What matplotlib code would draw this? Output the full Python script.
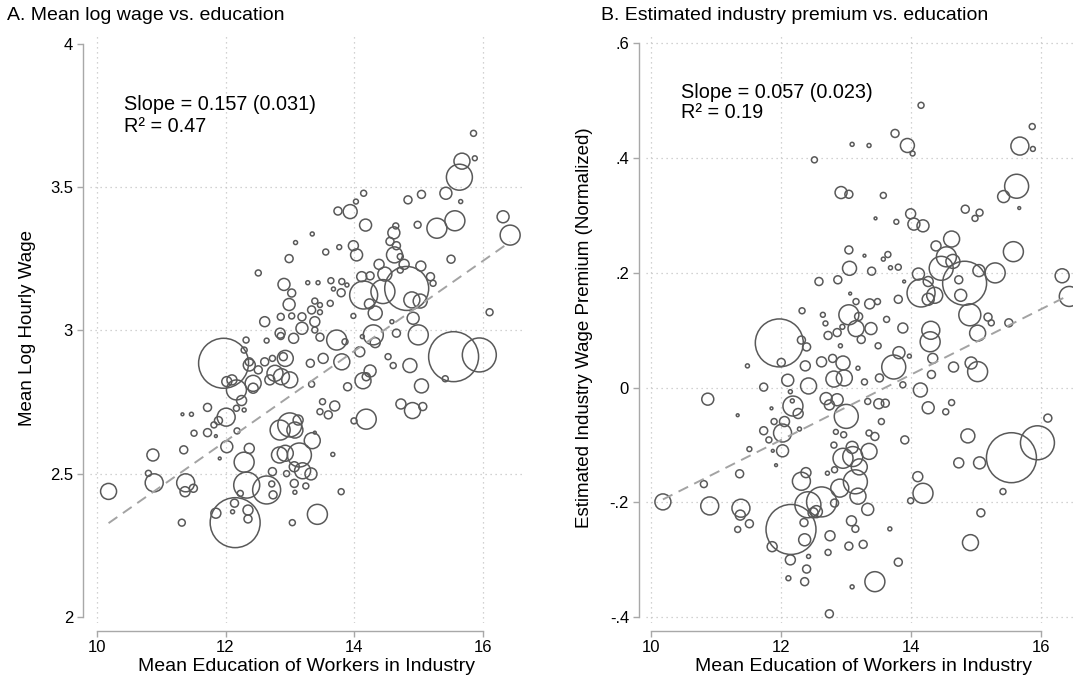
import numpy as np
import matplotlib
matplotlib.use('Agg')
import matplotlib.pyplot as plt

plt.rcParams['font.family'] = ['Liberation Sans', 'DejaVu Sans']

# ---- panel A: mean log wage vs mean education (bubble = employment weight)
edu_a = [12.51, 12.91, 12.99, 12.99, 12.86, 12.61, 12.32, 12.64, 12.86,
         15.86, 15.68, 15.88, 15.64, 15.43, 15.66, 15.05, 14.84, 14.15, 14.03,
         13.94, 13.75, 14.18, 16.32, 16.43, 15.29, 15.57, 14.99, 14.65, 14.62,
         14.56, 14.66, 14.63, 14.72, 15.51, 13.99, 14.04, 13.77, 13.56, 13.35, 13.09,
         14.39, 14.78, 15.04, 14.48, 14.72, 14.12, 14.25, 15.19, 15.23, 14.15,
         14.45, 14.82, 14.90, 15.03, 14.24, 14.33, 13.99, 14.59, 14.92, 16.11,
         14.66, 15.00, 14.30, 14.13, 13.73, 13.86, 13.03, 13.28, 13.44, 13.64,
         13.81, 13.68, 13.80, 13.89, 13.63, 13.39, 13.47, 13.34, 13.47, 13.19,
         13.39, 13.19, 13.03, 13.39, 13.47, 13.06, 12.85,
         11.97, 12.29, 12.37, 12.37, 12.61, 12.73, 12.93, 12.77, 12.87, 12.69,
         13.00, 12.02, 12.10, 12.17, 12.43, 12.43, 12.51, 12.25, 12.17, 12.29,
         12.01, 11.89, 11.82, 11.72, 11.47, 11.33, 11.72, 11.51, 11.85, 12.18,
         12.02, 11.35, 10.87, 11.91, 12.37, 12.29, 12.73, 12.84, 12.95, 10.80,
         10.89, 11.38, 11.50, 11.37, 10.18, 12.33, 12.64, 12.72, 12.74, 12.23,
         12.14, 12.11, 11.85, 12.35, 12.35, 12.15, 11.32,
         14.33, 15.55, 15.95, 15.42, 14.53, 14.61, 14.87, 15.05, 14.25, 14.19,
         14.14, 13.90, 14.09, 13.81, 13.52, 13.34, 14.73, 14.91, 15.07, 14.19,
         14.00, 13.70, 13.60, 13.51, 13.47, 13.35, 13.39, 13.15, 12.93, 13.00,
         13.08, 13.13, 12.85, 13.33, 13.20, 13.07, 13.07, 13.25, 13.08, 13.67,
         13.80, 13.43, 13.04, 12.90, 13.32]
wage_a = [3.200, 3.160, 3.250, 3.090, 3.047, 3.030, 2.966, 2.964, 2.980,
          3.687, 3.590, 3.600, 3.534, 3.478, 3.449, 3.474, 3.455, 3.478, 3.449,
          3.414, 3.416, 3.367, 3.396, 3.332, 3.356, 3.382, 3.368, 3.364, 3.340,
          3.310, 3.295, 3.263, 3.257, 3.248, 3.295, 3.263, 3.290, 3.273, 3.336, 3.306,
          3.230, 3.230, 3.224, 3.196, 3.210, 3.187, 3.190, 3.187, 3.164, 3.123,
          3.135, 3.146, 3.106, 3.102, 3.092, 3.060, 3.050, 3.030, 3.042, 3.063,
          2.990, 2.984, 2.984, 2.978, 2.966, 2.960, 3.130, 3.166, 3.166, 3.173,
          3.170, 3.144, 3.131, 3.158, 3.094, 3.102, 3.088, 3.071, 3.063, 3.047,
          3.030, 3.007, 3.050, 3.001, 2.976, 2.972, 2.990,
          2.885, 2.931, 2.890, 2.879, 2.890, 2.902, 2.902, 2.850, 2.838, 2.827,
          2.827, 2.821, 2.827, 2.792, 2.815, 2.798, 2.862, 2.755, 2.728, 2.722,
          2.697, 2.685, 2.670, 2.731, 2.707, 2.707, 2.643, 2.641, 2.631, 2.649,
          2.594, 2.583, 2.565, 2.553, 2.588, 2.540, 2.507, 2.565, 2.500, 2.501,
          2.468, 2.468, 2.449, 2.437, 2.438, 2.460, 2.443, 2.464, 2.426, 2.431,
          2.397, 2.367, 2.362, 2.373, 2.342, 2.329, 2.329,
          2.957, 2.908, 2.914, 2.831, 2.908, 2.877, 2.877, 2.806, 2.858, 2.838,
          2.824, 2.803, 2.925, 2.890, 2.902, 2.812, 2.743, 2.720, 2.734, 2.690,
          2.684, 2.736, 2.705, 2.751, 2.716, 2.615, 2.643, 2.565, 2.571, 2.670,
          2.652, 2.687, 2.652, 2.499, 2.510, 2.524, 2.466, 2.457, 2.435, 2.567,
          2.437, 2.358, 2.329, 2.908, 2.885]
emp_a = [9, 36, 16, 36, 12, 25, 9, 6, 12,
         9, 64, 6, 169, 36, 4, 16, 16, 9, 6,
         49, 16, 36, 36, 100, 100, 100, 12, 9, 36,
         16, 16, 64, 9, 16, 25, 36, 6, 9, 4, 4,
         25, 25, 25, 49, 9, 25, 16, 16, 9, 196,
         144, 484, 64, 49, 25, 49, 6, 4, 36, 12,
         16, 100, 100, 4, 100, 9, 16, 4, 4, 9,
         9, 4, 16, 4, 9, 9, 6, 16, 6, 16,
         25, 36, 9, 9, 16, 25, 25,
         625, 9, 16, 36, 16, 9, 64, 64, 64, 25,
         64, 25, 25, 100, 64, 25, 16, 25, 9, 4,
         81, 16, 9, 16, 4, 2, 16, 9, 2, 9,
         36, 16, 36, 2, 25, 100, 16, 64, 9, 9,
         81, 81, 16, 25, 64, 169, 196, 9, 16, 9,
         16, 4, 25, 25, 16, 625, 12,
         25, 625, 289, 9, 9, 9, 49, 49, 36, 16,
         64, 16, 25, 64, 25, 9, 25, 64, 16, 100,
         9, 25, 16, 9, 9, 64, 2, 144, 64, 144,
         64, 25, 100, 36, 64, 25, 16, 9, 4, 4,
         9, 100, 9, 16, 16]
fit_a = (0.157, 0.729)  # slope, intercept

# ---- panel B: estimated industry premium vs mean education
edu_b = [12.51, 12.32, 11.97, 12.31, 12.39, 12.58,
         14.15, 13.09, 13.35, 13.75, 13.94, 14.02, 15.86, 15.67, 15.87, 12.92,
         13.04, 13.57, 15.62, 15.42, 15.66, 14.83, 15.05, 14.98, 13.45, 13.77,
         13.99, 14.04, 14.18, 14.62, 14.38, 15.57, 14.54, 14.64, 14.46, 13.04,
         13.28, 13.64, 13.57, 13.05, 13.39, 13.68, 13.80, 12.87, 13.89, 14.11,
         14.82, 14.15, 14.26, 14.36, 14.26, 15.04, 15.29, 14.73, 14.76, 16.32,
         16.43, 13.80, 13.06, 13.15, 13.36, 13.48, 13.04, 13.19, 12.64, 13.62,
         12.68, 13.15, 13.38, 12.94, 12.86, 12.72, 13.23, 13.87, 14.30, 14.29,
         14.90, 15.18, 15.23, 15.50, 15.02, 12.91, 13.49,
         12.00, 11.48, 12.10, 11.73, 10.87, 12.14, 12.37, 12.42, 12.17, 12.18,
         12.26, 11.85, 11.33, 12.05, 11.89, 12.02, 11.73, 11.81, 12.28, 11.87,
         12.02, 11.51, 11.92, 11.36, 10.81, 10.18, 10.90, 11.38, 11.37, 11.51,
         11.33, 12.15, 12.38, 12.31, 12.41, 12.36, 12.35, 11.86, 12.14, 12.42,
         12.39, 12.11, 12.36, 12.54,
         16.10, 15.94, 15.54, 14.87, 15.05, 14.73, 15.41, 15.07, 14.91, 14.10,
         14.18, 13.99, 14.62, 14.53, 14.26, 13.90, 13.54, 13.50, 13.60, 13.33,
         14.14, 14.31, 14.33, 14.65, 14.92, 15.02, 13.73, 13.81, 13.97, 13.87,
         13.51, 13.28, 13.00, 12.97, 12.81, 12.95, 12.79, 13.18, 12.69, 12.86,
         12.74, 12.62, 12.84, 12.96, 12.81, 13.35, 13.44, 13.35, 13.09, 13.10,
         12.95, 13.20, 12.82, 12.71, 12.90, 13.14, 13.18, 13.33, 12.62, 12.82,
         12.49, 13.08, 13.14, 12.75, 13.04, 13.26, 13.67, 12.72, 13.80, 13.44,
         13.09, 12.74]
prem_b = [0.397, 0.134, 0.078, 0.083, 0.071, 0.185,
          0.492, 0.424, 0.422, 0.443, 0.422, 0.408, 0.455, 0.421, 0.416, 0.340,
          0.337, 0.335, 0.351, 0.333, 0.313, 0.311, 0.305, 0.295, 0.295, 0.289,
          0.303, 0.285, 0.282, 0.259, 0.247, 0.237, 0.228, 0.220, 0.208, 0.240,
          0.230, 0.232, 0.224, 0.208, 0.203, 0.209, 0.210, 0.188, 0.185, 0.198,
          0.182, 0.165, 0.185, 0.161, 0.154, 0.204, 0.200, 0.188, 0.161, 0.195,
          0.159, 0.154, 0.164, 0.150, 0.146, 0.150, 0.127, 0.124, 0.127, 0.119,
          0.112, 0.103, 0.103, 0.106, 0.096, 0.091, 0.084, 0.104, 0.100, 0.080,
          0.127, 0.123, 0.113, 0.113, 0.095, 0.073, 0.073,
          0.044, 0.038, 0.013, 0.001, -0.020, -0.007, 0.038, 0.003, -0.023, -0.032,
          -0.045, -0.036, -0.048, -0.059, -0.059, -0.079, -0.075, -0.091, -0.072, -0.110,
          -0.110, -0.107, -0.135, -0.150, -0.168, -0.199, -0.206, -0.210, -0.222, -0.237,
          -0.247, -0.247, -0.148, -0.163, -0.204, -0.265, -0.235, -0.277, -0.300, -0.294,
          -0.316, -0.332, -0.338, -0.216,
          -0.053, -0.096, -0.122, -0.084, -0.131, -0.131, -0.181, -0.218, -0.270, -0.155,
          -0.184, -0.197, -0.026, -0.042, -0.035, -0.091, -0.059, -0.028, -0.027, -0.024,
          -0.004, 0.023, 0.051, 0.036, 0.043, 0.028, 0.036, 0.061, 0.055, 0.005,
          0.017, 0.010, -0.050, 0.017, 0.015, 0.043, 0.051, 0.034, -0.019, -0.021,
          -0.030, 0.045, -0.077, -0.082, -0.100, -0.079, -0.085, -0.111, -0.104, -0.120,
          -0.123, -0.138, -0.143, -0.149, -0.175, -0.164, -0.189, -0.212, -0.199, -0.201,
          -0.218, -0.232, -0.246, -0.258, -0.276, -0.273, -0.246, -0.287, -0.304, -0.338,
          -0.347, -0.394]
emp_b = [9, 9, 576, 16, 16, 16,
         9, 4, 4, 16, 49, 6, 9, 81, 6, 36,
         16, 9, 144, 36, 2, 16, 12, 9, 2, 6,
         25, 36, 36, 64, 25, 100, 100, 49, 144, 16,
         2, 9, 4, 49, 16, 4, 9, 16, 2, 36,
         484, 196, 25, 64, 36, 36, 100, 16, 36, 49,
         100, 16, 2, 9, 25, 9, 100, 16, 6, 9,
         6, 64, 36, 6, 16, 16, 16, 25, 81, 100,
         121, 16, 9, 16, 64, 4, 9,
         16, 4, 36, 16, 36, 4, 25, 64, 4, 100,
         25, 2, 2, 25, 9, 81, 16, 9, 4, 2,
         36, 6, 2, 16, 12, 64, 81, 81, 25, 16,
         9, 625, 25, 81, 169, 36, 16, 25, 25, 4,
         16, 6, 16, 36,
         16, 289, 625, 49, 36, 25, 9, 16, 64, 25,
         100, 9, 9, 9, 36, 16, 9, 25, 16, 9,
         49, 16, 25, 25, 36, 100, 144, 36, 4, 9,
         16, 9, 144, 64, 64, 49, 16, 4, 36, 36,
         25, 25, 6, 9, 9, 9, 16, 64, 36, 100,
         100, 64, 9, 4, 81, 144, 64, 36, 225, 16,
         25, 25, 12, 25, 16, 16, 4, 9, 16, 100,
         4, 16]
fit_b = (0.057, -0.775)

W, H, DPI = 1073, 690, 100
EDGE = '#595959'
GRID = '#c4c4c4'
AXIS = '#a8a8a8'


def px_box(left, top, right, bottom):
    return [left / W, 1 - bottom / H, (right - left) / W, (bottom - top) / H]


def draw_panel(ax, x, y, w, fit, xlim, ylim, yticks, ylabels, ygrid):
    x, y, w = np.array(x), np.array(y), np.array(w, dtype=float)
    for g in [10, 12, 14, 16]:
        ax.axvline(g, color=GRID, lw=0.9, ls=(0, (1, 3)), zorder=0)
    for g in ygrid:
        ax.axhline(g, color=GRID, lw=0.9, ls=(0, (1, 3)), zorder=0)
    ax.scatter(x, y, s=2.07 * w, facecolors='none', edgecolors=EDGE,
               linewidths=1.1, zorder=2)
    xs = np.array([x.min(), x.max()])
    ax.plot(xs, fit[1] + fit[0] * xs, color='#a3a3a3', lw=1.4,
            dashes=(5.5, 3.5), zorder=3)
    ax.set_xlim(*xlim)
    ax.set_ylim(*ylim)
    ax.set_xticks([10, 12, 14, 16])
    ax.set_yticks(yticks)
    ax.set_yticklabels(ylabels)
    for side in ['top', 'right']:
        ax.spines[side].set_visible(False)
    ax.spines['left'].set_position(('outward', 5.2))
    ax.spines['bottom'].set_position(('outward', 5.5))
    ax.spines['left'].set_bounds(yticks[0], yticks[-1])
    ax.spines['bottom'].set_bounds(10, 16)
    for side in ['left', 'bottom']:
        ax.spines[side].set_color(AXIS)
        ax.spines[side].set_linewidth(1.0)
    ax.tick_params(color=AXIS, width=1.0, length=4.5, labelsize=12,
                   labelcolor='black', pad=2.5)
    ax.set_facecolor('none')


fig = plt.figure(figsize=(W / DPI, H / DPI), dpi=DPI)
ax_a = fig.add_axes(px_box(90, 33, 523, 623))
ax_b = fig.add_axes(px_box(646, 33, 1081, 623))

draw_panel(ax_a, edu_a, wage_a, emp_a, fit_a, (9.891, 16.63), (1.979, 4.037),
           [2, 2.5, 3, 3.5, 4], ['2', '2.5', '3', '3.5', '4'], [2.5, 3, 3.5])
draw_panel(ax_b, edu_b, prem_b, emp_b, fit_b, (9.92, 16.61), (-0.41, 0.618),
           [-0.4, -0.2, 0, 0.2, 0.4, 0.6], ['-.4', '-.2', '0', '.2', '.4', '.6'],
           [-0.4, -0.2, 0, 0.2, 0.4, 0.6])

ax_a.set_xlabel('Mean Education of Workers in Industry', fontsize=14, labelpad=2)
ax_b.set_xlabel('Mean Education of Workers in Industry', fontsize=14, labelpad=2)
ax_a.set_ylabel('Mean Log Hourly Wage', fontsize=13.5, labelpad=10)
ax_b.set_ylabel('Estimated Industry Wage Premium (Normalized)', fontsize=13.5, labelpad=12)

fig.text(7 / W, 1 - 16 / H, 'A. Mean log wage vs. education', fontsize=14,
         ha='left', va='center')
fig.text(601 / W, 1 - 16 / H, 'B. Estimated industry premium vs. education',
         fontsize=14, ha='left', va='center')

fig.text(124 / W, 1 - 105 / H, 'Slope = 0.157 (0.031)', fontsize=14.3, ha='left', va='center')
fig.text(124 / W, 1 - 126 / H, 'R\u00b2 = 0.47', fontsize=14.3, ha='left', va='center')
fig.text(681 / W, 1 - 93 / H, 'Slope = 0.057 (0.023)', fontsize=14.3, ha='left', va='center')
fig.text(681 / W, 1 - 113 / H, 'R\u00b2 = 0.19', fontsize=14.3, ha='left', va='center')

fig.savefig('out.png', dpi=DPI, facecolor='white')
